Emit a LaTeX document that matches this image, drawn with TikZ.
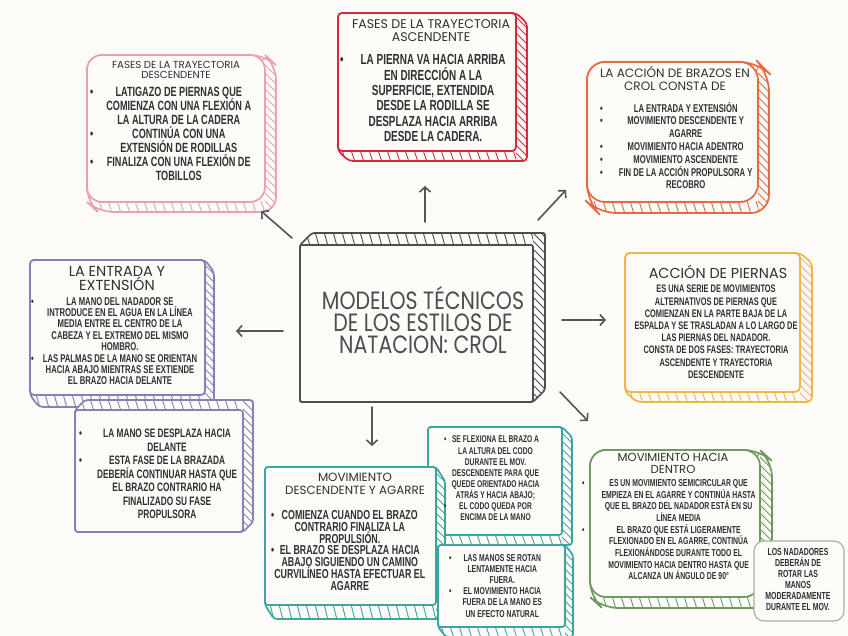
\documentclass[tikz,border=0pt]{standalone}
\usepackage{fontspec}
\usepackage{array}
\usetikzlibrary{arrows.meta}
\newfontfamily\bodyf[FakeStretch=0.68]{Liberation Sans}
\newfontfamily\ttlf{Poppins}
\newfontfamily\ctrf[FakeStretch=0.82]{Poppins}
\newcommand\rt[1]{\smash{#1}}
\newcommand\nols{\lineskiplimit=-30pt\lineskip=0pt}
\definecolor{bg}{HTML}{FCFBF8}
\definecolor{pinkc}{HTML}{E8A1B4}
\definecolor{redc}{HTML}{D42A3C}
\definecolor{orangec}{HTML}{E56A43}
\definecolor{purplec}{HTML}{8B7DB6}
\definecolor{centc}{HTML}{4D4D4D}
\definecolor{yellowc}{HTML}{F1B545}
\definecolor{tealc}{HTML}{3BA59E}
\definecolor{greenc}{HTML}{6E9B5D}
\definecolor{grayg}{HTML}{A3B09C}
\definecolor{txtc}{HTML}{303030}
\definecolor{arrc}{HTML}{555555}
\tikzset{
  body/.style={inner sep=0pt, text=txtc, font=\bodyf\bfseries},
  ttl/.style={inner sep=0pt, text=txtc, align=center},
  arr/.style={draw=arrc, line width=1.6pt, line cap=round, -{Straight Barb[length=5pt,width=11pt]}},
}
% hatch lines: color x1 y1 x2 y2 dx dy
\newcommand\skhatch[7]{%
  \begin{scope}[draw=#1, line width=0.9pt]
    \begin{scope}
      \clip (#4,-40) rectangle (900,700);
      \foreach \t in {-40,-32,...,680}{\draw ({#4-1},\t) -- ++({#6+2},{#6+2});}
    \end{scope}
    \begin{scope}
      \clip (-40,-40) rectangle (#4,700);
      \foreach \s in {0,9,...,860}{\draw (\s,{#5-1}) -- ++(4,{#7+2}); \draw (\s,{#3+#7-1}) -- ++(4,{-#7+2});}
    \end{scope}
  \end{scope}}
% box extruded down-right: color x1 y1 x2 y2 dx dy radius
\newcommand\skDR[8]{%
  \fill[bg, rounded corners=#8pt] (#2,#3) -- (#4,#3) -- ({#4+#6},{#3+#7}) -- ({#4+#6},{#5+#7}) -- ({#2+#6},{#5+#7}) -- (#2,#5) -- cycle;
  \begin{scope}
    \clip[rounded corners=#8pt] (#2,#3) -- (#4,#3) -- ({#4+#6},{#3+#7}) -- ({#4+#6},{#5+#7}) -- ({#2+#6},{#5+#7}) -- (#2,#5) -- cycle;
    \skhatch{#1}{#2}{#3}{#4}{#5}{#6}{#7}
  \end{scope}
  \draw[#1, line width=1.7pt, rounded corners=#8pt] (#2,#3) -- (#4,#3) -- ({#4+#6},{#3+#7}) -- ({#4+#6},{#5+#7}) -- ({#2+#6},{#5+#7}) -- (#2,#5) -- cycle;
  \draw[#1, fill=bg, line width=1.7pt, rounded corners=#8pt] (#2,#3) rectangle (#4,#5);}
% box extruded up-right
\newcommand\skUR[8]{%
  \fill[bg, rounded corners=#8pt] (#2,#5) -- (#2,#3) -- ({#2+#6},{#3+#7}) -- ({#4+#6},{#3+#7}) -- ({#4+#6},{#5+#7}) -- (#4,#5) -- cycle;
  \begin{scope}
    \clip[rounded corners=#8pt] (#2,#5) -- (#2,#3) -- ({#2+#6},{#3+#7}) -- ({#4+#6},{#3+#7}) -- ({#4+#6},{#5+#7}) -- (#4,#5) -- cycle;
    \skhatch{#1}{#2}{#3}{#4}{#5}{#6}{#7}
  \end{scope}
  \draw[#1, line width=1.7pt, rounded corners=#8pt] (#2,#5) -- (#2,#3) -- ({#2+#6},{#3+#7}) -- ({#4+#6},{#3+#7}) -- ({#4+#6},{#5+#7}) -- (#4,#5) -- cycle;
  \draw[#1, fill=bg, line width=1.7pt, rounded corners=#8pt] (#2,#3) rectangle (#4,#5);}
\begin{document}
\begin{tikzpicture}[x=1pt, y=-1pt]
\useasboundingbox (0,0) rectangle (848,636);
\fill[bg] (0,0) rectangle (848,636);

% ---------- frames ----------
\skDR{pinkc}{87}{55}{265}{202}{11}{10}{15}
\skDR{redc}{338}{13}{516}{151}{11}{10}{4}
\skDR{orangec}{587}{62}{758}{202}{11}{11}{18}
\skDR{purplec}{30}{260}{205}{395}{9}{12}{4}
\skUR{purplec}{75}{410}{243}{532}{10}{-10}{3}
\skUR{centc}{300}{245}{533}{402}{12}{-12}{2}
\skDR{yellowc}{625}{253}{800}{392}{12}{10}{5}
\skDR{tealc}{428}{427}{562}{535}{10}{10}{3}
\skDR{tealc}{265}{467}{436}{605}{9}{14}{3}
\skDR{tealc}{438}{545}{565}{627}{8}{10}{3}
\skDR{greenc}{590}{450}{760}{597}{12}{11}{16}
\draw[grayg, fill=bg, line width=1.1pt, rounded corners=10pt] (754,541) rectangle (844,621);

% ---------- centre ----------
\node[inner sep=0pt, text=centc, align=center, font=\ctrf\fontsize{25}{22}\selectfont\nols] (c) at (423,320)
  {MODELOS TÉCNICOS\\DE LOS ESTILOS DE\\NATACION: CROL};

% ---------- titles ----------
\node[ttl, anchor=north, font=\ttlf\fontsize{10.2}{10.5}\selectfont\nols] (t1) at (176,61) {FASES DE LA TRAYECTORIA\\DESCENDENTE};
\node[ttl, anchor=north, font=\ttlf\fontsize{12.6}{13}\selectfont\nols] (t2) at (431,19) {FASES DE LA TRAYECTORIA\\ASCENDENTE};
\node[ttl, anchor=north, font=\ttlf\fontsize{12.1}{13.5}\selectfont\nols] (t3) at (675,66) {LA ACCIÓN DE BRAZOS EN\\CROL CONSTA DE};
\node[ttl, anchor=north, font=\ttlf\fontsize{14.5}{14}\selectfont\nols] (t4) at (117,266) {LA ENTRADA Y\\EXTENSIÓN};
\node[ttl, anchor=north, font=\ttlf\fontsize{14.4}{14}\selectfont\nols] (t6) at (718,265) {ACCIÓN DE PIERNAS};
\node[ttl, anchor=north, font=\ttlf\fontsize{11.9}{12.5}\selectfont\nols] (t8) at (355,473) {MOVIMIENTO\\DESCENDENTE Y AGARRE};
\node[ttl, anchor=north, font=\ttlf\fontsize{11.6}{12.5}\selectfont\nols] (t11) at (673,453) {MOVIMIENTO HACIA\\DENTRO};

% ---------- bodies ----------
\node[body, anchor=north west] (b1) at (90,87) {\fontsize{13.4}{14}\selectfont
\begin{tabular}{@{}l@{\hspace{13pt}}c@{}}
\textbullet & \rt{LATIGAZO DE PIERNAS QUE}\\
 & \rt{COMIENZA CON UNA FLEXIÓN A}\\
 & \rt{LA ALTURA DE LA CADERA}\\
\textbullet & \rt{CONTINÚA CON UNA}\\
 & \rt{EXTENSIÓN DE RODILLAS}\\
\textbullet & \rt{FINALIZA CON UNA FLEXIÓN DE}\\
 & \rt{TOBILLOS}
\end{tabular}};

\node[body, anchor=north west] (b2) at (340,54) {\fontsize{14.6}{15.3}\selectfont
\begin{tabular}{@{}l@{\hspace{17pt}}c@{}}
\textbullet & \rt{LA PIERNA VA HACIA ARRIBA}\\
 & \rt{EN DIRECCIÓN A LA}\\
 & \rt{SUPERFICIE, EXTENDIDA}\\
 & \rt{DESDE LA RODILLA SE}\\
 & \rt{DESPLAZA HACIA ARRIBA}\\
 & \rt{DESDE LA CADERA.}
\end{tabular}};

\node[body, anchor=north west] (b3) at (600,103) {\fontsize{11.3}{12.8}\selectfont
\begin{tabular}{@{}l@{\hspace{16pt}}c@{}}
\textbullet & \rt{LA ENTRADA Y EXTENSIÓN}\\
\textbullet & \rt{MOVIMIENTO DESCENDENTE Y}\\
 & \rt{AGARRE}\\
\textbullet & \rt{MOVIMIENTO HACIA ADENTRO}\\
\textbullet & \rt{MOVIMIENTO ASCENDENTE}\\
\textbullet & \rt{FIN DE LA ACCIÓN PROPULSORA Y}\\
 & \rt{RECOBRO}
\end{tabular}};

\node[body, anchor=north west] (b4) at (31,297) {\fontsize{11.3}{11.4}\selectfont
\begin{tabular}{@{}l@{\hspace{9pt}}c@{}}
\textbullet & \rt{LA MANO DEL NADADOR SE}\\
 & \rt{INTRODUCE EN EL AGUA EN LA LÍNEA}\\
 & \rt{MEDIA ENTRE EL CENTRO DE LA}\\
 & \rt{CABEZA Y EL EXTREMO DEL MISMO}\\
 & \rt{HOMBRO.}\\
\textbullet & \rt{LAS PALMAS DE LA MANO SE ORIENTAN}\\
 & \rt{HACIA ABAJO MIENTRAS SE EXTIENDE}\\
 & \rt{EL BRAZO HACIA DELANTE}
\end{tabular}};

\node[body, anchor=north, align=center, font=\bodyf\bfseries\fontsize{10.9}{12.2}\selectfont\nols] (b6) at (716,285)
{ES UNA SERIE DE MOVIMIENTOS\\
ALTERNATIVOS DE PIERNAS QUE\\
COMIENZAN EN LA PARTE BAJA DE LA\\
ESPALDA Y SE TRASLADAN A LO LARGO DE\\
LAS PIERNAS DEL NADADOR.\\
CONSTA DE DOS FASES: TRAYECTORIA\\
ASCENDENTE Y TRAYECTORIA\\
DESCENDENTE};

\node[body, anchor=north west] (b7) at (79,428) {\fontsize{12.2}{13.5}\selectfont
\begin{tabular}{@{}l@{\hspace{15pt}}c@{}}
\textbullet & \rt{LA MANO SE DESPLAZA HACIA}\\
 & \rt{DELANTE}\\
\textbullet & \rt{ESTA FASE DE LA BRAZADA}\\
 & \rt{DEBERÍA CONTINUAR HASTA QUE}\\
 & \rt{EL BRAZO CONTRARIO HA}\\
 & \rt{FINALIZADO SU FASE}\\
 & \rt{PROPULSORA}
\end{tabular}};

\node[body, anchor=north west] (b8) at (271,511) {\fontsize{13}{11.8}\selectfont
\begin{tabular}{@{}l@{\hspace{0pt}}c@{}}
\textbullet & \rt{COMIENZA CUANDO EL BRAZO}\\
 & \rt{CONTRARIO FINALIZA LA}\\
 & \rt{PROPULSIÓN.}\\
\textbullet & \rt{EL BRAZO SE DESPLAZA HACIA}\\
 & \rt{ABAJO SIGUIENDO UN CAMINO}\\
 & \rt{CURVILÍNEO HASTA EFECTUAR EL}\\
 & \rt{AGARRE}
\end{tabular}};

\node[body, anchor=north west] (b9) at (444,435) {\fontsize{9.8}{11.1}\selectfont
\begin{tabular}{@{}l@{\hspace{5pt}}c@{}}
\textbullet & \rt{SE FLEXIONA EL BRAZO A}\\
 & \rt{LA ALTURA DEL CODO}\\
 & \rt{DURANTE EL MOV.}\\
 & \rt{DESCENDENTE PARA QUE}\\
 & \rt{QUEDE ORIENTADO HACIA}\\
 & \rt{ATRÁS Y HACIA ABAJO;}\\
\textbullet & \rt{EL CODO QUEDA POR}\\
 & \rt{ENCIMA DE LA MANO}
\end{tabular}};

\node[body, anchor=north west] (b10) at (449,553) {\fontsize{10}{11.2}\selectfont
\begin{tabular}{@{}l@{\hspace{11pt}}c@{}}
\textbullet & \rt{LAS MANOS SE ROTAN}\\
 & \rt{LENTAMENTE HACIA}\\
 & \rt{FUERA.}\\
\textbullet & \rt{EL MOVIMIENTO HACIA}\\
 & \rt{FUERA DE LA MANO ES}\\
 & \rt{UN EFECTO NATURAL}
\end{tabular}};

\node[body, anchor=north west] (b11) at (582,478) {\fontsize{10.1}{11.7}\selectfont
\begin{tabular}{@{}l@{\hspace{17pt}}c@{}}
\textbullet & \rt{ES UN MOVIMIENTO SEMICIRCULAR QUE}\\
 & \rt{EMPIEZA EN EL AGARRE Y CONTINÚA HASTA}\\
 & \rt{QUE EL BRAZO DEL NADADOR ESTÁ EN SU}\\
 & \rt{LÍNEA MEDIA}\\
\textbullet & \rt{EL BRAZO QUE ESTÁ LIGERAMENTE}\\
 & \rt{FLEXIONADO EN EL AGARRE, CONTINÚA}\\
 & \rt{FLEXIONÁNDOSE DURANTE TODO EL}\\
 & \rt{MOVIMIENTO HACIA DENTRO HASTA QUE}\\
 & \rt{ALCANZA UN ÁNGULO DE 90°}
\end{tabular}};

\node[body, anchor=north, align=center, font=\bodyf\bfseries\fontsize{10.2}{11}\selectfont\nols] (b12) at (798,548)
{LOS NADADORES\\DEBERÁN DE\\ROTAR LAS\\MANOS\\MODERADAMENTE\\DURANTE EL MOV.};

% ---------- arrows ----------
\coordinate (a1s) at (292,238); \coordinate (a1e) at (261,211);
\coordinate (a2s) at (425,222); \coordinate (a2e) at (425,186);
\coordinate (a3s) at (538,220); \coordinate (a3e) at (566,190);
\coordinate (a4s) at (283,331); \coordinate (a4e) at (236,331);
\coordinate (a5s) at (562,320); \coordinate (a5e) at (606,320);
\coordinate (a6s) at (560,392); \coordinate (a6e) at (588,421);
\coordinate (a7s) at (372,407); \coordinate (a7e) at (372,446);
\draw[arr] (a1s) -- (a1e);
\draw[arr] (a2s) -- (a2e);
\draw[arr] (a3s) -- (a3e);
\draw[arr] (a4s) -- (a4e);
\draw[arr] (a5s) -- (a5e);
\draw[arr] (a6s) -- (a6e);
\draw[arr] (a7s) -- (a7e);
\end{tikzpicture}
\end{document}
